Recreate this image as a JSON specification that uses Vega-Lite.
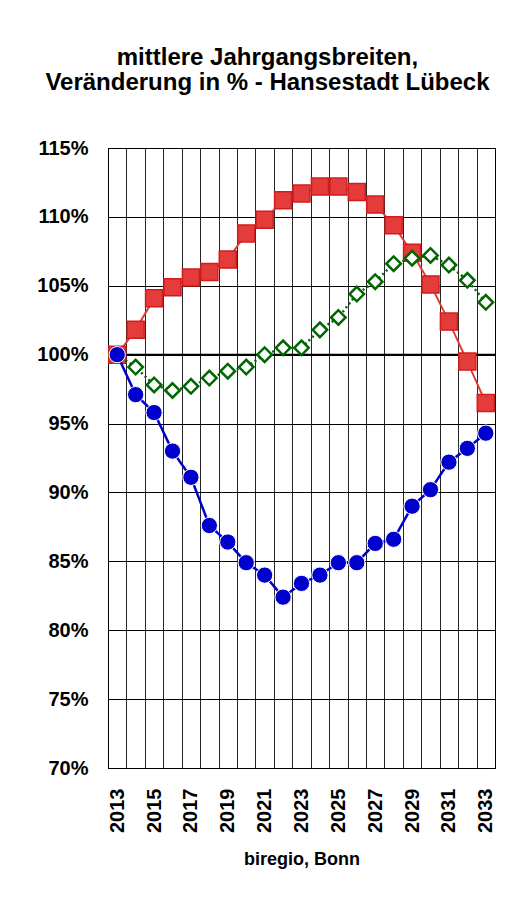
{
  "$schema": "https://vega.github.io/schema/vega-lite/v6.json",
  "width": 387,
  "height": 620,
  "padding": {"left": 36, "top": 46, "right": 30, "bottom": 10},
  "background": "white",
  "title": {
    "text": ["mittlere Jahrgangsbreiten,", "Veränderung in % - Hansestadt Lübeck"],
    "font": "Liberation Sans",
    "fontSize": 24,
    "fontWeight": "bold",
    "lineHeight": 25,
    "anchor": "middle",
    "frame": "bounds",
    "offset": 43,
    "color": "#000000"
  },
  "config": {
    "view": {"stroke": "#000000", "strokeWidth": 1},
    "axis": {
      "labelFont": "Liberation Sans",
      "labelFontWeight": "bold",
      "labelColor": "#000000",
      "titleFont": "Liberation Sans",
      "titleColor": "#000000"
    }
  },
  "datasets": {
    "reihen": [
      {"jahr": 2013, "serie": "rot", "wert": 100.0},
      {"jahr": 2014, "serie": "rot", "wert": 101.8},
      {"jahr": 2015, "serie": "rot", "wert": 104.1},
      {"jahr": 2016, "serie": "rot", "wert": 104.9},
      {"jahr": 2017, "serie": "rot", "wert": 105.6},
      {"jahr": 2018, "serie": "rot", "wert": 106.0},
      {"jahr": 2019, "serie": "rot", "wert": 106.9},
      {"jahr": 2020, "serie": "rot", "wert": 108.8},
      {"jahr": 2021, "serie": "rot", "wert": 109.8},
      {"jahr": 2022, "serie": "rot", "wert": 111.2},
      {"jahr": 2023, "serie": "rot", "wert": 111.7},
      {"jahr": 2024, "serie": "rot", "wert": 112.2},
      {"jahr": 2025, "serie": "rot", "wert": 112.2},
      {"jahr": 2026, "serie": "rot", "wert": 111.8},
      {"jahr": 2027, "serie": "rot", "wert": 110.9},
      {"jahr": 2028, "serie": "rot", "wert": 109.4},
      {"jahr": 2029, "serie": "rot", "wert": 107.4},
      {"jahr": 2030, "serie": "rot", "wert": 105.1},
      {"jahr": 2031, "serie": "rot", "wert": 102.4},
      {"jahr": 2032, "serie": "rot", "wert": 99.5},
      {"jahr": 2033, "serie": "rot", "wert": 96.5},
      {"jahr": 2013, "serie": "gruen", "wert": 100.0},
      {"jahr": 2014, "serie": "gruen", "wert": 99.1},
      {"jahr": 2015, "serie": "gruen", "wert": 97.8},
      {"jahr": 2016, "serie": "gruen", "wert": 97.4},
      {"jahr": 2017, "serie": "gruen", "wert": 97.7},
      {"jahr": 2018, "serie": "gruen", "wert": 98.3},
      {"jahr": 2019, "serie": "gruen", "wert": 98.8},
      {"jahr": 2020, "serie": "gruen", "wert": 99.1},
      {"jahr": 2021, "serie": "gruen", "wert": 100.0},
      {"jahr": 2022, "serie": "gruen", "wert": 100.5},
      {"jahr": 2023, "serie": "gruen", "wert": 100.5},
      {"jahr": 2024, "serie": "gruen", "wert": 101.8},
      {"jahr": 2025, "serie": "gruen", "wert": 102.7},
      {"jahr": 2026, "serie": "gruen", "wert": 104.4},
      {"jahr": 2027, "serie": "gruen", "wert": 105.3},
      {"jahr": 2028, "serie": "gruen", "wert": 106.6},
      {"jahr": 2029, "serie": "gruen", "wert": 107.0},
      {"jahr": 2030, "serie": "gruen", "wert": 107.2},
      {"jahr": 2031, "serie": "gruen", "wert": 106.5},
      {"jahr": 2032, "serie": "gruen", "wert": 105.4},
      {"jahr": 2033, "serie": "gruen", "wert": 103.8},
      {"jahr": 2013, "serie": "blau", "wert": 100.0},
      {"jahr": 2014, "serie": "blau", "wert": 97.1},
      {"jahr": 2015, "serie": "blau", "wert": 95.8},
      {"jahr": 2016, "serie": "blau", "wert": 93.0},
      {"jahr": 2017, "serie": "blau", "wert": 91.1},
      {"jahr": 2018, "serie": "blau", "wert": 87.6},
      {"jahr": 2019, "serie": "blau", "wert": 86.4},
      {"jahr": 2020, "serie": "blau", "wert": 84.9},
      {"jahr": 2021, "serie": "blau", "wert": 84.0},
      {"jahr": 2022, "serie": "blau", "wert": 82.4},
      {"jahr": 2023, "serie": "blau", "wert": 83.4},
      {"jahr": 2024, "serie": "blau", "wert": 84.0},
      {"jahr": 2025, "serie": "blau", "wert": 84.9},
      {"jahr": 2026, "serie": "blau", "wert": 84.9},
      {"jahr": 2027, "serie": "blau", "wert": 86.3},
      {"jahr": 2028, "serie": "blau", "wert": 86.6},
      {"jahr": 2029, "serie": "blau", "wert": 89.0},
      {"jahr": 2030, "serie": "blau", "wert": 90.2},
      {"jahr": 2031, "serie": "blau", "wert": 92.2},
      {"jahr": 2032, "serie": "blau", "wert": 93.2},
      {"jahr": 2033, "serie": "blau", "wert": 94.3}
    ],
    "referenz": [{"wert": 100}]
  },
  "data": {"name": "reihen"},
  "encoding": {
    "x": {
      "field": "jahr",
      "type": "ordinal",
      "bandPosition": 0.5,
      "scale": {"type": "band", "paddingInner": 0, "paddingOuter": 0},
      "axis": {
        "title": "biregio, Bonn",
        "titleFontSize": 18,
        "titleFontWeight": "bold",
        "titlePadding": 18,
        "labelAngle": -90,
        "labelFontSize": 20,
        "labelPadding": 20,
        "labelExpr": "datum.value % 2 == 1 ? datum.label : ''",
        "ticks": false,
        "domain": false,
        "grid": true,
        "tickBand": "extent",
        "gridColor": "#000000",
        "gridOpacity": 0.85,
        "gridWidth": 1
      }
    },
    "y": {
      "field": "wert",
      "type": "quantitative",
      "scale": {"domain": [70, 115], "nice": false, "zero": false},
      "axis": {
        "title": null,
        "values": [70, 75, 80, 85, 90, 95, 100, 105, 110, 115],
        "labelExpr": "datum.value + '%'",
        "labelFontSize": 20,
        "labelPadding": 20,
        "ticks": false,
        "domain": false,
        "grid": true,
        "gridColor": "#000000",
        "gridWidth": 1
      }
    }
  },
  "layer": [
    {
      "data": {"name": "referenz"},
      "mark": {"type": "rule", "color": "#000000", "strokeWidth": 2},
      "encoding": {"y": {"field": "wert", "type": "quantitative"}, "x": null}
    },
    {
      "transform": [{"filter": "datum.serie == 'rot'"}],
      "mark": {"type": "line", "color": "#e33b3b", "strokeWidth": 2}
    },
    {
      "transform": [{"filter": "datum.serie == 'rot'"}],
      "mark": {"type": "point", "shape": "square", "filled": true, "size": 289, "fill": "#e43b3b", "fillOpacity": 1, "stroke": "#d21c1c", "strokeWidth": 1.5, "opacity": 1}
    },
    {
      "transform": [{"filter": "datum.serie == 'gruen'"}],
      "mark": {"type": "line", "color": "#006600", "strokeWidth": 2.5, "strokeDash": [2, 3]}
    },
    {
      "transform": [{"filter": "datum.serie == 'gruen'"}],
      "mark": {"type": "point", "shape": "diamond", "filled": false, "size": 210, "fill": "#ffffff", "fillOpacity": 1, "stroke": "#006600", "strokeWidth": 2.5, "opacity": 1}
    },
    {
      "transform": [{"filter": "datum.serie == 'blau'"}],
      "mark": {"type": "line", "color": "#0000cc", "strokeWidth": 2.5}
    },
    {
      "transform": [{"filter": "datum.serie == 'blau'"}],
      "mark": {"type": "point", "shape": "circle", "filled": true, "size": 265, "fill": "#0000cc", "fillOpacity": 1, "stroke": "#ffffff", "strokeWidth": 1, "opacity": 1}
    }
  ]
}
